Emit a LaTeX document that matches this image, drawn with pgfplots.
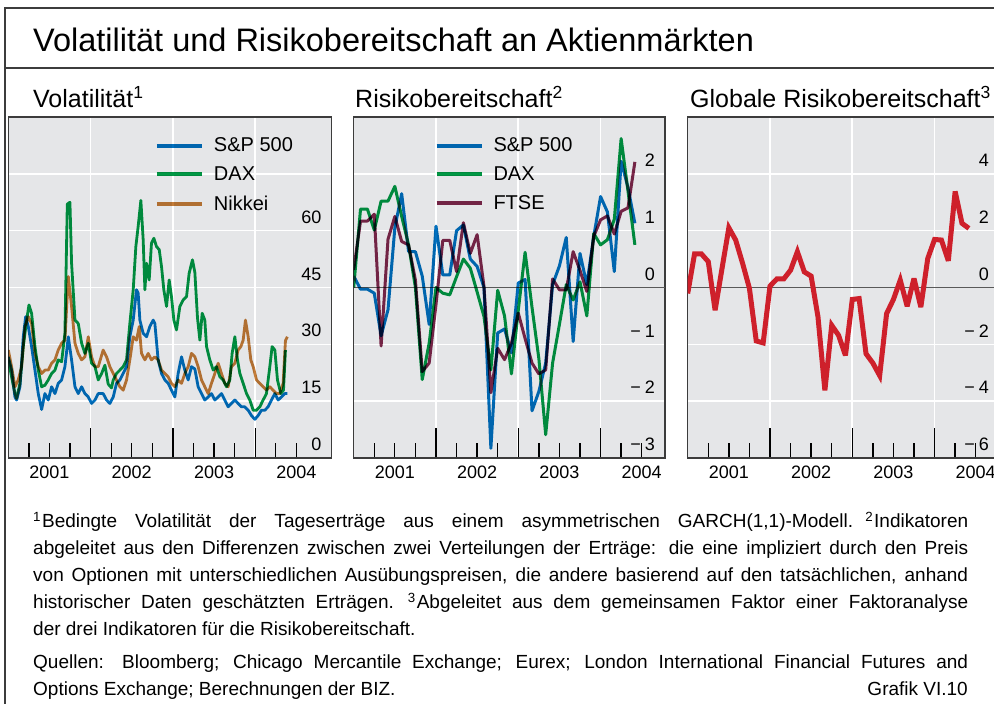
\documentclass[border=0pt]{standalone}
\usepackage{pgfplots}
\pgfplotsset{compat=1.18}
\usepackage{pgfplotstable}
\usepackage{fontspec}
\setmainfont{Liberation Sans}
\definecolor{bgray}{RGB}{229,230,232}
\definecolor{spblue}{RGB}{0,112,192}
\definecolor{daxgreen}{RGB}{0,152,68}
\definecolor{nikorange}{RGB}{196,124,56}
\definecolor{ftsemaroon}{RGB}{128,40,76}
\definecolor{gred}{RGB}{206,32,43}
\definecolor{framecol}{RGB}{60,60,60}

\pgfplotstableread{
x sp dax ftse glob
2001.000 0.20 0.00 0.31 -0.21
2001.083 -0.03 1.38 1.17 1.18
2001.167 -0.03 1.38 1.17 1.18
2001.250 -0.10 1.01 1.29 0.91
2001.333 -0.85 1.52 -1.03 -0.80
2001.417 -0.39 1.52 0.85 0.67
2001.500 1.05 1.78 1.25 2.10
2001.583 1.65 1.25 0.81 1.67
2001.667 0.63 0.75 0.75 0.85
2001.750 0.63 0.00 0.13 -0.03
2001.833 0.20 -1.62 -1.48 -1.88
2001.917 -0.65 -0.98 -1.33 -1.95
2002.000 1.08 0.00 -0.30 0.05
2002.083 0.22 -0.10 0.83 0.30
2002.167 0.22 -0.13 0.83 0.30
2002.250 1.00 0.19 0.28 0.61
2002.333 1.10 0.50 1.14 1.26
2002.417 0.50 0.34 0.60 0.55
2002.500 0.37 -0.08 0.93 0.40
2002.583 0.00 -0.51 0.02 -1.03
2002.667 -2.83 -1.45 -1.85 -3.62
2002.750 -0.80 -0.05 -1.07 -1.33
2002.833 -0.73 -0.50 -1.27 -1.68
2002.917 -1.15 -1.52 -0.98 -2.39
2003.000 0.08 -0.40 -0.45 -0.42
2003.083 0.14 0.62 -0.90 -0.39
2003.167 -2.17 -0.35 -1.33 -2.33
2003.250 -1.83 -1.25 -1.52 -2.66
2003.333 -1.33 -2.59 -1.45 -3.10
2003.417 0.05 -1.33 0.15 -0.92
2003.500 0.38 -0.65 -0.04 -0.42
2003.583 0.88 0.05 -0.04 0.26
2003.667 -0.95 -0.22 0.63 -0.66
2003.750 0.60 0.10 0.30 0.32
2003.833 0.05 -0.50 -0.07 -0.69
2003.917 0.90 0.95 0.90 1.02
2004.000 1.60 0.75 1.19 1.69
2004.083 1.33 0.84 1.26 1.67
2004.167 0.28 1.20 0.94 0.94
2004.250 2.22 2.62 1.34 3.38
2004.333 1.76 1.70 1.40 2.26
2004.417 1.13 0.75 2.21 2.08
}\riskdata

\pgfplotsset{
  bispanel/.style={
    scale only axis, height=341pt,
    axis background/.style={fill=bgray},
    axis line style={draw=framecol, line width=1.1pt},
    xmin=2001,
    xtick={2002,2003,2004}, xticklabels={},
    xmajorgrids=true, ymajorgrids=true,
    major grid style={white, line width=1.6pt},
    tick align=inside, xtick pos=left, ytick pos=right,
    major tick length=30pt, minor tick length=15pt,
    xtick style={black, line width=1.3pt},
    minor xtick={2001.25,2001.5,2001.75,2002.25,2002.5,2002.75,2003.25,2003.5,2003.75,2004.25,2004.5},
    minor tick style={black, line width=1.3pt},
    ytick style={draw=none},
    extra x ticks={2001.5,2002.5,2003.5,2004.5},
    extra x tick labels={2001,2002,2003,2004},
    extra x tick style={grid=none, major tick length=0pt},
    xticklabel style={anchor=north, inner sep=0pt, yshift=-7.5pt},
    yticklabel pos=right,
    yticklabel style={anchor=south east, inner sep=0pt, xshift=-10pt, yshift=7pt},
    ticklabel style={font=\fontsize{18}{18}\selectfont},
    legend cell align=left,
    legend image code/.code={\draw[##1, line width=4pt] (0pt,0pt) -- (45pt,0pt);},
    legend style={anchor=north west, draw=none, fill=none, inner sep=0pt, outer sep=0pt,
      row sep=13.5pt, column sep=10pt, font=\fontsize{20}{20}\selectfont,
      nodes={inner sep=0pt}},
  },
  vol/.style={line width=2.8pt, line join=round, blend mode=multiply},
  risk/.style={line width=3pt, line join=round, blend mode=multiply},
}

\begin{document}
\begin{tikzpicture}
\useasboundingbox (0pt,0pt) rectangle (994pt,704pt);

% frame
\draw[framecol, line width=1.5pt] (5pt,0pt) -- (5pt,696pt) -- (1000pt,696pt);
\draw[framecol, line width=1.5pt] (5pt,636pt) -- (1000pt,636pt);

\node[anchor=base west, inner sep=0pt, font=\fontsize{32.5}{32.5}\selectfont] at (33pt,652pt) {Volatilität und Risikobereitschaft an Aktienmärkten};
\node[anchor=base west, inner sep=0pt, font=\fontsize{25}{25}\selectfont] at (33pt,596pt) {Volatilität\textsuperscript{1}};
\node[anchor=base west, inner sep=0pt, font=\fontsize{25}{25}\selectfont] at (355pt,596pt) {Risikobereitschaft\textsuperscript{2}};
\node[anchor=base west, inner sep=0pt, font=\fontsize{25}{25}\selectfont] at (690pt,596pt) {Globale Risikobereitschaft\textsuperscript{3}};

% Panel 1
\begin{axis}[bispanel, at={(8.3pt,246pt)}, anchor=south west, width=323.4pt,
  xmax=2004.93, ymin=0, ymax=90,
  ytick={0,15,30,45,60,75}, yticklabels={0,15,30,45,60,{}},
  legend style={at={(0.4536,0.939)}}]
\addplot[vol, spblue] coordinates {
(2001.000,26.7) (2001.040,23.2) (2001.081,16.1) (2001.101,15.3) (2001.142,18.8) (2001.182,32.0)
(2001.211,37.3) (2001.243,34.7) (2001.283,29.4) (2001.324,23.2) (2001.364,17.0) (2001.405,12.8)
(2001.445,17.0) (2001.486,15.3) (2001.526,18.8) (2001.567,17.0) (2001.607,19.7) (2001.648,20.6)
(2001.688,24.1) (2001.729,32.0) (2001.769,25.9) (2001.810,18.8) (2001.850,17.0) (2001.891,18.8)
(2001.931,17.0) (2001.972,16.1) (2002.012,14.4) (2002.053,15.3) (2002.093,17.0) (2002.153,17.0)
(2002.194,15.3) (2002.234,14.4) (2002.275,16.1) (2002.315,19.7) (2002.356,20.6) (2002.396,22.3)
(2002.437,24.1) (2002.477,32.0) (2002.518,36.4) (2002.558,44.4) (2002.578,43.5) (2002.599,36.4)
(2002.639,32.9) (2002.680,32.0) (2002.720,34.7) (2002.761,36.4) (2002.781,35.5) (2002.821,25.9)
(2002.862,22.3) (2002.903,20.6) (2002.943,19.7) (2002.983,17.9) (2003.024,16.1) (2003.064,22.3)
(2003.105,26.7) (2003.145,23.2) (2003.186,20.6) (2003.226,24.1) (2003.267,23.5) (2003.307,18.8)
(2003.348,17.0) (2003.388,15.3) (2003.429,16.1) (2003.469,17.0) (2003.510,15.3) (2003.550,16.1)
(2003.591,17.0) (2003.631,15.3) (2003.672,13.5) (2003.712,14.4) (2003.753,15.3) (2003.793,14.4)
(2003.834,13.5) (2003.874,13.5) (2003.915,12.6) (2003.955,11.2) (2003.996,10.2) (2004.036,11.2)
(2004.076,12.6) (2004.117,12.6) (2004.157,13.5) (2004.198,15.3) (2004.239,17.0) (2004.279,15.3)
(2004.320,16.1) (2004.360,17.0) (2004.392,17.0)};
\addlegendentry{S\&P 500}
\addplot[vol, daxgreen] coordinates {
(2001.000,25.9) (2001.040,21.4) (2001.081,17.0) (2001.101,15.7) (2001.142,19.7) (2001.182,29.4)
(2001.223,36.4) (2001.251,40.4) (2001.283,38.2) (2001.324,29.4) (2001.364,23.2) (2001.405,18.8)
(2001.445,19.2) (2001.486,20.6) (2001.526,22.3) (2001.567,23.2) (2001.607,25.9) (2001.648,25.4)
(2001.688,32.9) (2001.717,67.0) (2001.749,67.5) (2001.769,51.4) (2001.810,36.4) (2001.850,35.5)
(2001.891,30.3) (2001.931,27.6) (2001.972,30.3) (2002.012,25.0) (2002.053,24.1) (2002.093,20.6)
(2002.134,22.3) (2002.174,24.5) (2002.214,19.5) (2002.254,18.5) (2002.275,20.6) (2002.315,22.3)
(2002.356,23.2) (2002.396,24.1) (2002.437,25.9) (2002.477,35.5) (2002.518,44.4) (2002.550,55.8)
(2002.578,61.1) (2002.611,68.0) (2002.639,57.6) (2002.660,44.4) (2002.680,51.4) (2002.712,47.0)
(2002.740,56.7) (2002.769,58.0) (2002.801,55.8) (2002.834,55.0) (2002.862,50.5) (2002.890,44.4)
(2002.923,40.0) (2002.955,47.0) (2002.983,42.6) (2003.012,36.4) (2003.044,33.8) (2003.085,40.0)
(2003.125,41.7) (2003.166,42.6) (2003.198,48.8) (2003.238,52.3) (2003.267,49.0) (2003.299,37.0)
(2003.328,31.1) (2003.356,38.2) (2003.388,36.4) (2003.409,29.4) (2003.449,25.9) (2003.490,23.2)
(2003.530,24.1) (2003.571,21.4) (2003.611,20.6) (2003.652,18.8) (2003.692,20.6) (2003.720,27.6)
(2003.753,32.0) (2003.785,25.9) (2003.814,22.3) (2003.854,19.7) (2003.895,17.0) (2003.935,15.3)
(2003.976,12.6) (2004.016,12.6) (2004.056,13.5) (2004.097,15.3) (2004.137,17.0) (2004.178,24.1)
(2004.206,29.4) (2004.239,28.5) (2004.271,20.6) (2004.312,17.0) (2004.344,17.9) (2004.368,28.5)};
\addlegendentry{DAX}
\addplot[vol, nikorange] coordinates {
(2001.000,28.5) (2001.040,24.1) (2001.081,18.8) (2001.121,20.6) (2001.162,24.1) (2001.202,34.7)
(2001.243,37.3) (2001.283,35.5) (2001.324,27.6) (2001.364,24.1) (2001.405,22.3) (2001.445,23.2)
(2001.486,23.2) (2001.526,25.0) (2001.567,25.9) (2001.607,28.5) (2001.648,30.3) (2001.688,31.1)
(2001.729,47.9) (2001.769,40.0) (2001.810,30.3) (2001.850,27.6) (2001.891,25.9) (2001.931,26.7)
(2001.972,32.0) (2002.012,26.7) (2002.053,24.1) (2002.093,24.1) (2002.153,28.5) (2002.194,26.7)
(2002.234,24.1) (2002.275,22.3) (2002.315,20.6) (2002.356,18.8) (2002.396,17.9) (2002.437,20.6)
(2002.477,25.9) (2002.518,32.0) (2002.558,31.1) (2002.591,34.7) (2002.619,27.6) (2002.660,25.9)
(2002.700,27.6) (2002.740,25.9) (2002.781,26.7) (2002.821,25.9) (2002.862,23.2) (2002.903,22.3)
(2002.943,21.4) (2002.983,19.7) (2003.024,18.8) (2003.064,20.6) (2003.105,19.7) (2003.145,22.3)
(2003.186,24.1) (2003.226,27.6) (2003.267,26.7) (2003.307,24.1) (2003.348,20.6) (2003.388,18.8)
(2003.429,17.0) (2003.469,19.7) (2003.510,22.3) (2003.550,25.0) (2003.591,22.3) (2003.631,19.7)
(2003.672,18.8) (2003.712,24.1) (2003.753,25.0) (2003.793,28.5) (2003.826,29.4) (2003.854,31.1)
(2003.882,36.4) (2003.915,32.0) (2003.947,25.9) (2003.976,24.1) (2004.016,20.6) (2004.056,19.7)
(2004.097,18.8) (2004.137,17.9) (2004.178,18.8) (2004.218,17.9) (2004.259,17.0) (2004.299,17.0)
(2004.340,19.7) (2004.368,31.0) (2004.392,32.0)};
\addlegendentry{Nikkei}
\end{axis}

% Panel 2
\begin{axis}[bispanel, at={(353.7pt,246pt)}, anchor=south west, width=311.3pt,
  xmax=2004.783, ymin=-3, ymax=3,
  ytick={-3,-2,-1,0,1,2}, yticklabels={−\hspace{4pt}3,−\hspace{4pt}2,−\hspace{4pt}1,0,1,2},
  legend style={at={(0.2596,0.939)}}]
\addplot[forget plot, black!65, line width=1.8pt] coordinates {(2001,0) (2004.783,0)};
\addplot[risk, spblue] table[x=x, y=sp] {\riskdata};
\addlegendentry{S\&P 500}
\addplot[risk, daxgreen] table[x=x, y=dax] {\riskdata};
\addlegendentry{DAX}
\addplot[risk, ftsemaroon] table[x=x, y=ftse] {\riskdata};
\addlegendentry{FTSE}
\end{axis}

% Panel 3
\begin{axis}[bispanel, at={(687.7pt,246pt)}, anchor=south west, width=311.3pt,
  xmax=2004.783, ymin=-6, ymax=6,
  ytick={-6,-4,-2,0,2,4}, yticklabels={−\hspace{4pt}6,−\hspace{4pt}4,−\hspace{4pt}2,0,2,4}]
\addplot[forget plot, black!65, line width=1.8pt] coordinates {(2001,0) (2004.783,0)};
\addplot[gred, line width=5pt, line join=miter, miter limit=4] table[x=x, y=glob] {\riskdata};
\end{axis}

% footnotes
\begin{scope}[every node/.style={anchor=base west, inner sep=0pt, font=\fontsize{19}{19}\selectfont}]
\node at (33pt,176pt) {\makebox[935pt][s]{\textsuperscript{1}\kern1pt Bedingte Volatilität der Tageserträge aus einem asymmetrischen GARCH(1,1)-Modell.\hspace{12pt}\textsuperscript{2}\kern1pt Indikatoren}};
\node at (33pt,149pt) {\makebox[935pt][s]{abgeleitet aus den Differenzen zwischen zwei Verteilungen der Erträge: die eine impliziert durch den Preis}};
\node at (33pt,122pt) {\makebox[935pt][s]{von Optionen mit unterschiedlichen Ausübungspreisen, die andere basierend auf den tatsächlichen, anhand}};
\node at (33pt,95pt) {\makebox[935pt][s]{historischer Daten geschätzten Erträgen.\hspace{14pt}\textsuperscript{3}\kern1pt Abgeleitet aus dem gemeinsamen Faktor einer Faktoranalyse}};
\node at (33pt,68pt) {der drei Indikatoren für die Risikobereitschaft.};
\node at (33pt,35pt) {\makebox[935pt][s]{Quellen: Bloomberg; Chicago Mercantile Exchange; Eurex; London International Financial Futures and}};
\node at (33pt,8pt) {Options Exchange; Berechnungen der BIZ.};
\node[anchor=base east] at (968pt,8pt) {Grafik VI.10};
\end{scope}
\end{tikzpicture}
\end{document}
